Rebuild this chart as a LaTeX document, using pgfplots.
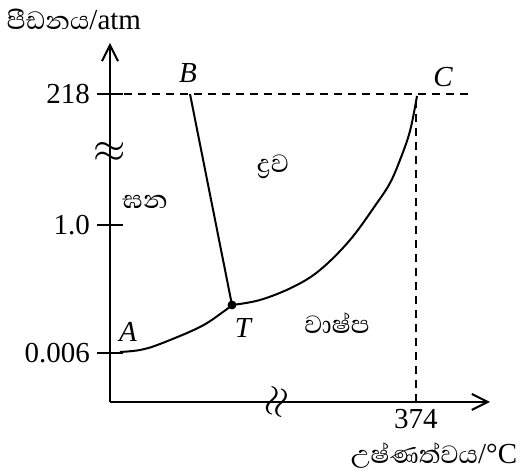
\documentclass[border=0pt]{standalone}
\usepackage{fontspec}
\setmainfont{Liberation Serif}
\newfontfamily\sinhala[Script=Sinhala]{Abhaya Libre}
\usepackage{pgfplots}
\pgfplotsset{compat=1.18}
\usetikzlibrary{arrows.meta}
\newcommand\fs{\fontsize{14.5}{17}\selectfont}
\newcommand\fss{\fontsize{16}{18}\selectfont}
\begin{document}
\begin{tikzpicture}
\begin{axis}[
    x=0.5pt, y=0.5pt,
    xmin=0, xmax=380, ymin=0, ymax=359,
    axis lines=left, clip=false,
    axis line style={line width=1pt, -{Straight Barb[length=8pt,width=8pt,line width=1pt]}},
    xtick={306}, xticklabels={374},
    ytick={49,177,308}, yticklabels={0.006,1.0,218},
    tick align=center, major tick length=13pt,
    tick style={line width=1pt, black},
    xtick style={draw=none},
    tick label style={font=\fs},
    xticklabel style={yshift=4pt, inner sep=1pt},
    /pgf/number format/assume math mode=true,
  ]
  % sublimation curve A-T
  \addplot[line width=1pt, smooth, tension=0.6] coordinates {(10,50) (30,52) (50,58) (90,75) (113,90) (122,97)};
  % fusion line T-B
  \addplot[line width=1pt] coordinates {(122,97) (80,308)};
  % vaporisation curve T-C
  \addplot[line width=1pt, smooth, tension=0.6] coordinates {(122,97) (150,102) (183,115) (210,132) (240,162) (267,199) (280,219) (290,242) (300,271) (307,306)};
  % critical point guides
  \addplot[line width=1pt, dash pattern=on 4pt off 3pt] coordinates {(0,308) (363,308)};
  \addplot[line width=1pt, dash pattern=on 4pt off 3pt] coordinates {(306,0) (306,308)};
  % triple point
  \addplot[only marks, mark=*, mark size=2pt] coordinates {(122,97)};

  \node[font=\fs\itshape] at (axis cs:18,70) {A};
  \node[font=\fs\itshape] at (axis cs:78,329) {B};
  \node[font=\fs\itshape] at (axis cs:333,325) {C};
  \node[font=\fs\itshape] at (axis cs:133,74) {T};
  \node[font=\fss\sinhala] at (axis cs:35,200) {ඝන};
  \node[font=\fss\sinhala] at (axis cs:163,235) {ද්^^^^200dරව};
  \node[font=\fss\sinhala] at (axis cs:227,79) {වාෂ්ප};
  \node[font=\fs, inner sep=1pt] at (axis cs:-36,383) {{\fss\sinhala පීඩනය}/atm};
  \node[font=\fs, inner sep=1pt] at (axis cs:324,-54) {{\fss\sinhala උෂ්ණත්වය}/°C};
  % axis breaks
  \node[font=\fontsize{20}{20}\selectfont] at (axis cs:0,250) {$\approx$};
  \node[font=\fontsize{20}{20}\selectfont, rotate=75] at (axis cs:168,0) {$\approx$};

  \coordinate (bl) at (axis cs:-110,-72);
  \coordinate (tr) at (axis cs:411,402);
\end{axis}
\path[use as bounding box] (bl) rectangle (tr);
\end{tikzpicture}
\end{document}
